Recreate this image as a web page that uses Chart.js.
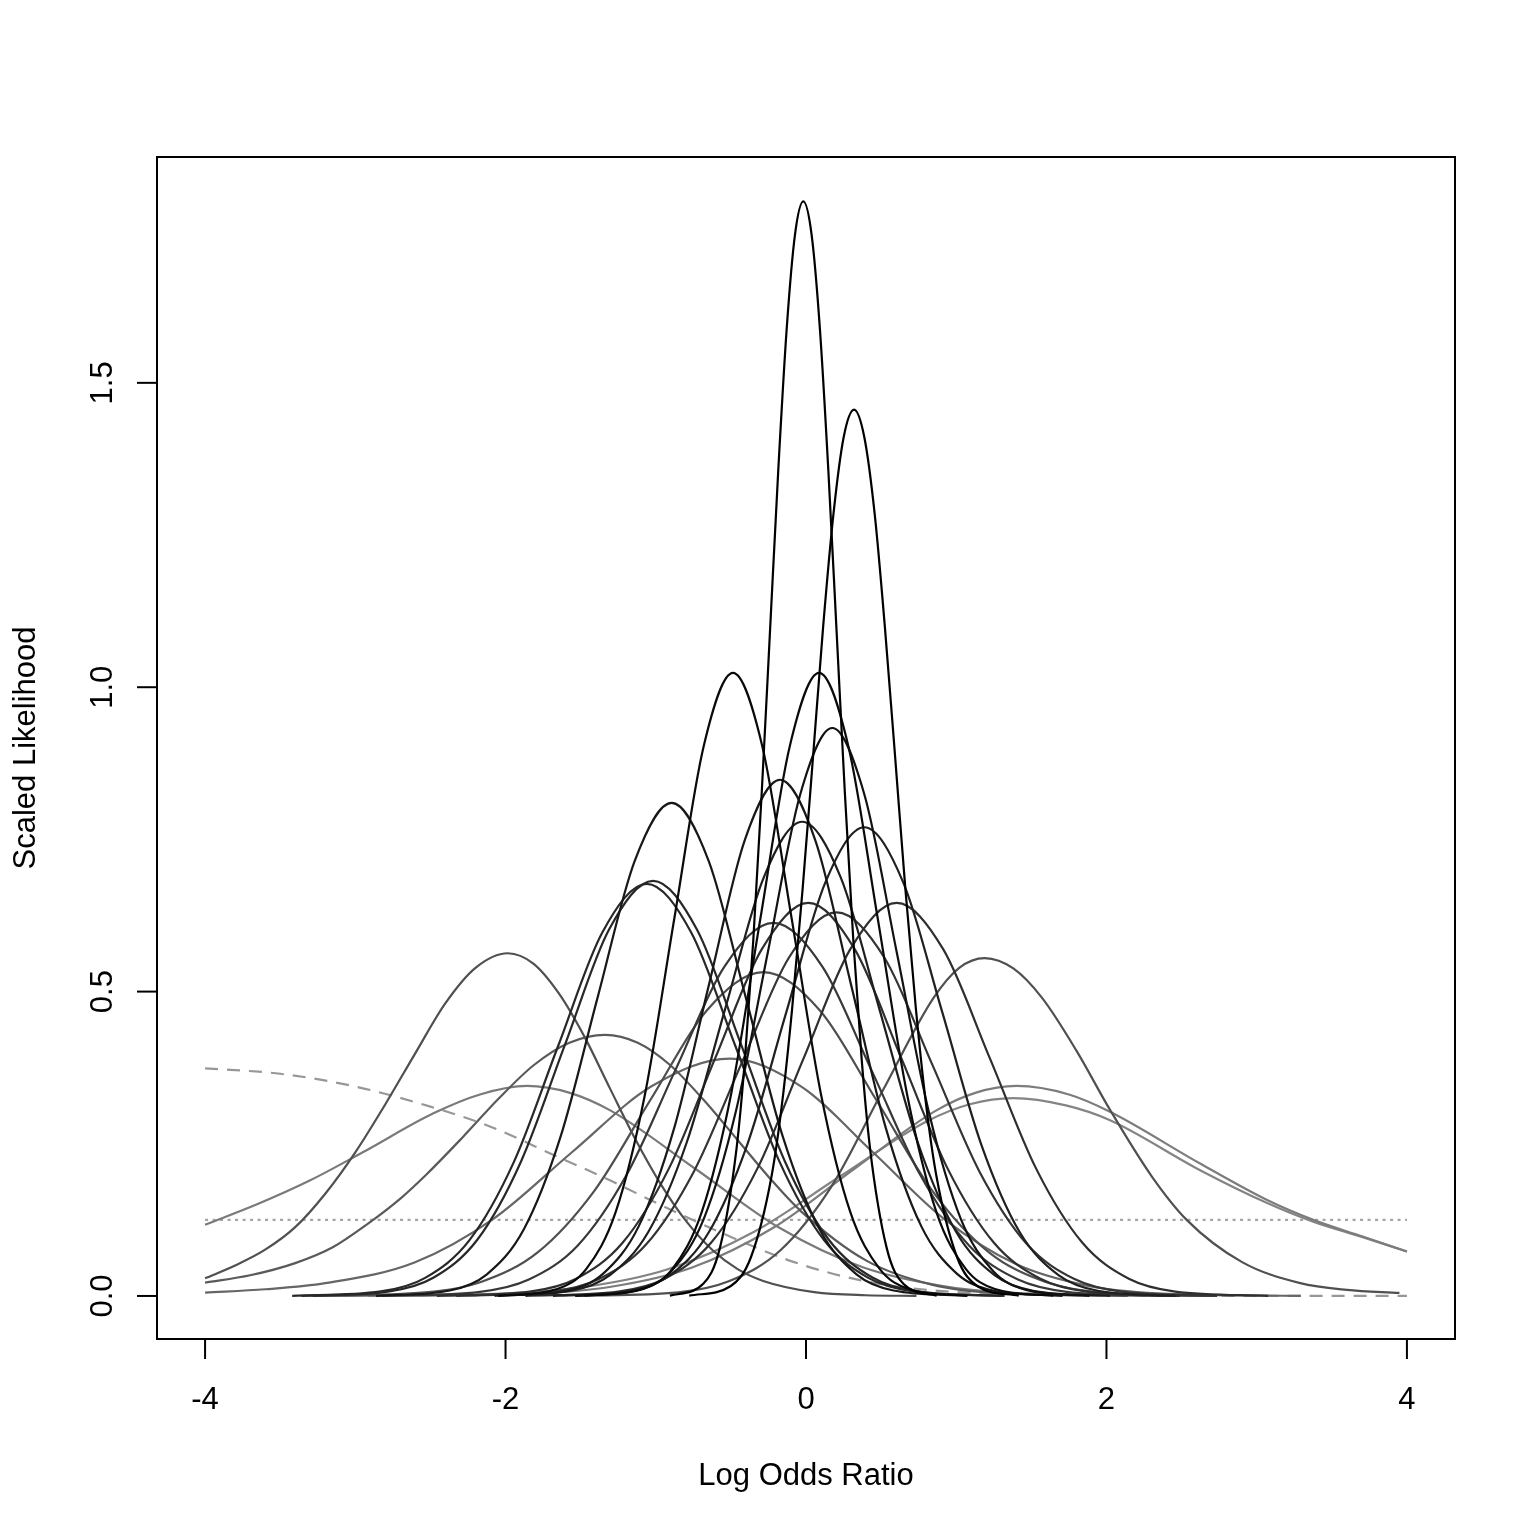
<!DOCTYPE html>
<html>
<head>
<meta charset="utf-8">
<script src="https://cdn.jsdelivr.net/npm/chart.js@4.4.1/dist/chart.umd.min.js"></script>
<style>
html,body{margin:0;padding:0;background:#ffffff;}
canvas{display:block;}
</style>
</head>
<body>
<canvas id="chart" width="1536" height="1536"></canvas>
<script>
// ---- tick labels and titles ----
const xTickValues = [-4, -2, 0, 2, 4];
const xTickLabels = ['-4', '-2', '0', '2', '4'];
const yTickValues = [0, 0.5, 1, 1.5];
const yTickLabels = ['0.0', '0.5', '1.0', '1.5'];
const xAxisTitle = 'Log Odds Ratio';
const yAxisTitle = 'Scaled Likelihood';

// ---- likelihood curves, [log odds ratio, scaled likelihood] ----
const studyA = [[-0.906,0.0006],[-0.684,0.020],[-0.573,0.079],[-0.462,0.243],[-0.4065,0.389],[-0.351,0.584],[-0.2955,0.823],[-0.240,1.090],[-0.1845,1.357],[-0.129,1.587],[-0.0735,1.743],[-0.018,1.798],[0.0375,1.743],[0.093,1.587],[0.1485,1.357],[0.204,1.090],[0.2595,0.823],[0.315,0.584],[0.3705,0.389],[0.426,0.243],[0.537,0.079],[0.648,0.020],[0.870,0.0006]];
const studyB = [[-0.777,0.0005],[-0.503,0.016],[-0.366,0.064],[-0.229,0.197],[-0.160,0.315],[-0.092,0.473],[-0.023,0.667],[0.046,0.883],[0.114,1.099],[0.183,1.285],[0.251,1.411],[0.320,1.456],[0.388,1.411],[0.457,1.285],[0.525,1.099],[0.594,0.883],[0.662,0.667],[0.731,0.473],[0.799,0.315],[0.868,0.197],[1.005,0.064],[1.142,0.016],[1.416,0.0005]];
const studyC = [[-2.046,0.0003],[-1.656,0.0114],[-1.461,0.0449],[-1.266,0.1385],[-1.071,0.3323],[-0.876,0.6208],[-0.681,0.9032],[-0.486,1.0235],[-0.291,0.9032],[-0.096,0.6208],[0.099,0.3323],[0.294,0.1385],[0.489,0.0449],[0.684,0.0114],[1.074,0.0003]];
const studyD = [[-1.473,0.0003],[-1.083,0.0114],[-0.888,0.0449],[-0.693,0.1385],[-0.498,0.3323],[-0.303,0.6208],[-0.108,0.9032],[0.087,1.0235],[0.282,0.9032],[0.477,0.6208],[0.672,0.3323],[0.867,0.1385],[1.062,0.0449],[1.257,0.0114],[1.647,0.0003]];
const studyE = [[-1.537,0.0003],[-1.109,0.0104],[-0.895,0.041],[-0.681,0.1262],[-0.467,0.3029],[-0.253,0.5659],[-0.039,0.8234],[0.175,0.933],[0.389,0.8234],[0.603,0.5659],[0.817,0.3029],[1.031,0.1262],[1.245,0.041],[1.459,0.0104],[1.887,0.0003]];
const studyF = [[-2.862,0.0003],[-2.370,0.009],[-2.124,0.0356],[-1.878,0.1096],[-1.632,0.263],[-1.386,0.4913],[-1.140,0.7148],[-0.894,0.810],[-0.648,0.7148],[-0.402,0.4913],[-0.156,0.263],[0.090,0.1096],[0.336,0.0356],[0.582,0.009],[1.074,0.0003]];
const studyG = [[-2.053,0.0003],[-1.583,0.0094],[-1.348,0.0372],[-1.113,0.1147],[-0.878,0.2753],[-0.643,0.5143],[-0.408,0.7484],[-0.173,0.848],[0.062,0.7484],[0.297,0.5143],[0.532,0.2753],[0.767,0.1147],[1.002,0.0372],[1.237,0.0094],[1.707,0.0003]];
const studyH = [[-2.073,0.0003],[-1.561,0.0086],[-1.305,0.0342],[-1.049,0.1054],[-0.793,0.2529],[-0.537,0.4725],[-0.281,0.6875],[-0.025,0.779],[0.231,0.6875],[0.487,0.4725],[0.743,0.2529],[0.999,0.1054],[1.255,0.0342],[1.511,0.0086],[2.023,0.0003]];
const studyI = [[-1.684,0.0003],[-1.166,0.0085],[-0.907,0.0338],[-0.648,0.1042],[-0.389,0.25],[-0.130,0.467],[0.129,0.6795],[0.388,0.770],[0.647,0.6795],[0.906,0.467],[1.165,0.25],[1.424,0.1042],[1.683,0.0338],[1.942,0.0085],[2.460,0.0003]];
const studyJ = [[-3.358,0.0002],[-2.773,0.0076],[-2.481,0.0299],[-2.188,0.0923],[-1.896,0.2214],[-1.603,0.4136],[-1.311,0.6019],[-1.018,0.682],[-0.726,0.6019],[-0.433,0.4136],[-0.141,0.2214],[0.152,0.0923],[0.445,0.0299],[0.737,0.0076],[1.322,0.0002]];
const studyK = [[-3.420,0.0002],[-2.830,0.0075],[-2.535,0.0297],[-2.240,0.0916],[-1.945,0.2198],[-1.650,0.4106],[-1.355,0.5975],[-1.060,0.677],[-0.765,0.5975],[-0.470,0.4106],[-0.175,0.2198],[0.120,0.0916],[0.415,0.0297],[0.710,0.0075],[1.300,0.0002]];
const studyL = [[-2.457,0.0002],[-1.839,0.0072],[-1.530,0.0283],[-1.221,0.0873],[-0.912,0.2096],[-0.603,0.3916],[-0.294,0.5697],[0.015,0.6456],[0.324,0.5697],[0.633,0.3916],[0.942,0.2096],[1.251,0.0873],[1.560,0.0283],[1.869,0.0072],[2.487,0.0002]];
const studyM = [[-1.868,0.0002],[-1.250,0.0072],[-0.941,0.0283],[-0.632,0.0873],[-0.323,0.2096],[-0.014,0.3916],[0.295,0.5697],[0.604,0.6456],[0.913,0.5697],[1.222,0.3916],[1.531,0.2096],[1.840,0.0873],[2.149,0.0283],[2.458,0.0072],[3.076,0.0002]];
const studyN = [[-2.328,0.0002],[-1.695,0.007],[-1.379,0.0277],[-1.062,0.0852],[-0.746,0.2046],[-0.429,0.3821],[-0.113,0.556],[0.204,0.630],[0.521,0.556],[0.837,0.3821],[1.154,0.2046],[1.470,0.0852],[1.787,0.0277],[2.103,0.007],[2.736,0.0002]];
const studyO = [[-2.821,0.0002],[-2.170,0.0068],[-1.845,0.0269],[-1.519,0.0829],[-1.194,0.199],[-0.868,0.3718],[-0.543,0.541],[-0.217,0.613],[0.109,0.541],[0.434,0.3718],[0.760,0.199],[1.085,0.0829],[1.411,0.0269],[1.736,0.0068],[2.387,0.0002]];
const studyP = [[-3.284,0.0002],[-2.534,0.0059],[-2.159,0.0234],[-1.784,0.072],[-1.409,0.1727],[-1.034,0.3227],[-0.659,0.4695],[-0.284,0.532],[0.091,0.4695],[0.466,0.3227],[0.841,0.1727],[1.216,0.072],[1.591,0.0234],[1.966,0.0059],[2.716,0.0002]];
const studyQ = [[-4,0.029],[-3.8,0.050],[-3.6,0.076],[-3.4,0.113],[-3.2,0.168],[-3.0,0.236],[-2.8,0.315],[-2.6,0.399],[-2.4,0.481],[-2.2,0.539],[-1.985,0.563],[-1.815,0.546],[-1.645,0.497],[-1.475,0.426],[-1.305,0.341],[-1.135,0.257],[-0.965,0.183],[-0.795,0.122],[-0.625,0.076],[-0.455,0.044],[-0.285,0.0247],[0.055,0.0063],[0.395,0.0012],[0.735,0.0002]];
const studyR = [[-1.53,0.0002],[-0.85,0.006],[-0.51,0.0245],[-0.17,0.075],[0.17,0.180],[0.51,0.337],[0.85,0.490],[1.02,0.539],[1.19,0.555],[1.38,0.538],[1.57,0.490],[1.8,0.403],[2.023,0.306],[2.3,0.197],[2.534,0.125],[2.9,0.056],[3.29,0.021],[3.6,0.010],[3.95,0.005]];
const studyS = [[-4,0.022],[-3.7,0.034],[-3.4,0.054],[-3.15,0.080],[-2.92,0.118],[-2.7,0.160],[-2.525,0.200],[-2.288,0.260],[-2.05,0.323],[-1.813,0.379],[-1.575,0.416],[-1.338,0.429],[-1.12,0.416],[-0.903,0.379],[-0.685,0.323],[-0.468,0.260],[-0.25,0.196],[-0.033,0.139],[0.402,0.058],[0.837,0.0187],[1.272,0.0047],[2.142,0.0002]];
const studyT = [[-4,0.0055],[-3.6,0.011],[-3.2,0.021],[-2.606,0.055],[-2.081,0.1266],[-1.556,0.2365],[-1.031,0.344],[-0.506,0.39],[-0.031,0.344],[0.444,0.2365],[0.919,0.1266],[1.394,0.0528],[1.869,0.0171],[2.344,0.0043],[3.294,0.0001]];
const studyU = [[-4,0.117],[-3.65,0.151],[-3.3,0.190],[-2.95,0.236],[-2.48,0.300],[-2.17,0.331],[-1.857,0.345],[-1.577,0.334],[-1.297,0.304],[-0.737,0.209],[-0.177,0.112],[0.383,0.0467],[0.943,0.0151],[1.503,0.0038],[2.623,0.0001]];
const studyV = [[-2.918,0.0001],[-1.838,0.0038],[-1.298,0.0151],[-0.758,0.0467],[-0.218,0.112],[0.322,0.209],[0.862,0.304],[1.132,0.334],[1.402,0.345],[1.75,0.331],[2.02,0.303],[2.62,0.218],[3.066,0.158],[3.376,0.125],[3.7,0.098],[4,0.073]];
const studyW = [[-3.22,0.0001],[-2.07,0.0036],[-1.495,0.0142],[-0.92,0.044],[-0.345,0.1055],[0.23,0.197],[0.805,0.287],[1.09,0.315],[1.38,0.325],[1.73,0.313],[2.02,0.289],[2.62,0.207],[3.066,0.153],[3.376,0.122],[3.7,0.097],[4,0.073]];

// ---- reference curves ----
const skepticalPrior = [[-4,0.374],[-3.5,0.365],[-3,0.344],[-2.5,0.311],[-2.1,0.278],[-1.657,0.229],[-1.305,0.190],[-0.972,0.150],[-0.528,0.100],[-0.084,0.056],[0.359,0.026],[0.803,0.010],[1.3,0.0035],[2,0.001],[3,0.0002],[4,0.0001]];
const flatPrior = [[-4,0.125],[4,0.125]];

// ---- styling (kept apart from the data) ----
const studySeries = [studyA, studyB, studyC, studyD, studyE, studyF, studyG, studyH, studyI, studyJ, studyK, studyL, studyM, studyN, studyO, studyP, studyQ, studyR, studyS, studyT, studyU, studyV, studyW];
const studyColours = ['#000000','#000000','#0a0a0a','#0a0a0a','#121212','#181818','#181818','#1e1e1e','#202020','#282828','#282828','#2f2f2f','#2f2f2f','#343434','#383838','#4f4f4f','#505050','#505050','#5a5a5a','#666666','#7a7a7a','#7c7c7c','#848484'];

const datasets = studySeries.map((pts, i) => ({
  data: pts,
  borderColor: studyColours[i],
  borderWidth: 2.2,
  pointRadius: 0,
  fill: false,
  cubicInterpolationMode: 'monotone'
}));
datasets.push({
  data: skepticalPrior, borderColor: '#979797', borderWidth: 2.2, borderDash: [13, 9],
  pointRadius: 0, fill: false, cubicInterpolationMode: 'monotone'
});
datasets.push({
  data: flatPrior, borderColor: '#a4a4a4', borderWidth: 2.2, borderDash: [3, 4.5],
  pointRadius: 0, fill: false
});

const FONT = '31px "Liberation Sans", Arial, Helvetica, sans-serif';

const rStyleAxes = {
  id: 'rStyleAxes',
  afterDraw(chart) {
    const { ctx, chartArea: a, scales } = chart;
    const xs = scales.x, ys = scales.y;
    ctx.save();
    ctx.strokeStyle = '#000';
    ctx.lineWidth = 2;
    ctx.strokeRect(a.left, a.top, a.right - a.left, a.bottom - a.top);
    ctx.fillStyle = '#000';
    ctx.font = FONT;
    ctx.textAlign = 'center';
    ctx.textBaseline = 'alphabetic';
    xTickValues.forEach((v, i) => {
      const px = xs.getPixelForValue(v);
      ctx.beginPath();
      ctx.moveTo(px, a.bottom);
      ctx.lineTo(px, a.bottom + 20);
      ctx.stroke();
      ctx.fillText(xTickLabels[i], px, a.bottom + 70);
    });
    yTickValues.forEach((v, i) => {
      const py = ys.getPixelForValue(v);
      ctx.beginPath();
      ctx.moveTo(a.left, py);
      ctx.lineTo(a.left - 20, py);
      ctx.stroke();
      ctx.save();
      ctx.translate(a.left - 45, py);
      ctx.rotate(-Math.PI / 2);
      ctx.fillText(yTickLabels[i], 0, 0);
      ctx.restore();
    });
    ctx.fillText(xAxisTitle, (a.left + a.right) / 2, a.bottom + 146);
    ctx.save();
    ctx.translate(35, (a.top + a.bottom) / 2);
    ctx.rotate(-Math.PI / 2);
    ctx.fillText(yAxisTitle, 0, 0);
    ctx.restore();
    ctx.restore();
  }
};

new Chart(document.getElementById('chart'), {
  type: 'line',
  data: { datasets },
  options: {
    responsive: false,
    animation: false,
    devicePixelRatio: 1,
    layout: { padding: { left: 157, top: 157, right: 81, bottom: 197 } },
    plugins: { legend: { display: false }, tooltip: { enabled: false }, title: { display: false } },
    scales: {
      x: { type: 'linear', min: -4.32, max: 4.32, display: false },
      y: { type: 'linear', min: -0.0707, max: 1.871, display: false }
    },
    elements: { line: { borderCapStyle: 'butt' } }
  },
  plugins: [rStyleAxes]
});
</script>
</body>
</html>
